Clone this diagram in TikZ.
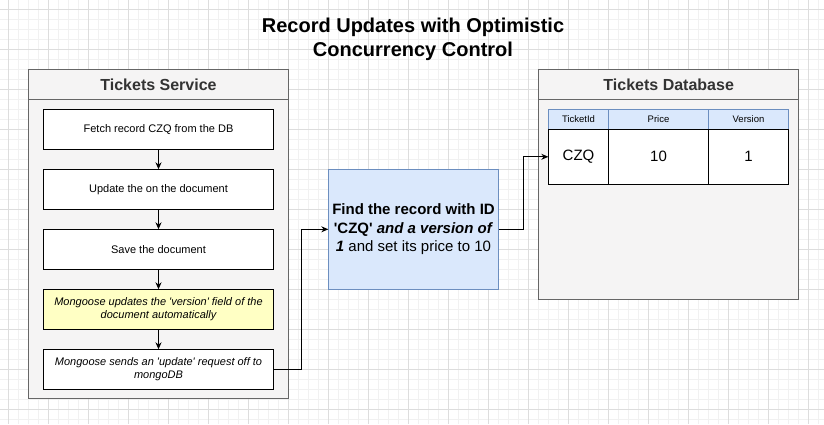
\documentclass[tikz,border=0pt]{standalone}
\usepackage{fontspec}
\setmainfont{Liberation Sans}
\usetikzlibrary{arrows.meta,positioning}
\definecolor{gridmajor}{HTML}{DDDDDD}
\definecolor{gridminor}{HTML}{F1F1F1}
\definecolor{panelfill}{HTML}{F5F4F4}
\definecolor{panelline}{HTML}{666666}
\definecolor{paneltext}{HTML}{333333}
\definecolor{bluefill}{HTML}{DAE8FC}
\definecolor{blueline}{HTML}{6C8EBF}
\definecolor{notefill}{HTML}{FFFFC4}
\newcommand{\sq}{\textquotesingle}
\tikzset{
  panel/.style={draw=panelline,fill=panelfill,line width=.8pt,inner sep=0pt,outer sep=0pt},
  panelhead/.style={panel,minimum height=30pt,text=paneltext,font=\fontsize{16}{18}\selectfont\bfseries},
  stepbox/.style={draw=black,fill=white,line width=.9pt,minimum width=230.4pt,minimum height=40pt,inner sep=0pt,outer sep=0pt,align=center,font=\fontsize{11}{13}\selectfont},
  headcell/.style={draw=blueline,fill=bluefill,line width=.8pt,minimum height=20pt,inner sep=0pt,outer sep=0pt,font=\fontsize{9.5}{11}\selectfont},
  datacell/.style={draw=black,fill=white,line width=.9pt,minimum height=55pt,inner sep=0pt,outer sep=0pt,font=\fontsize{15}{17}\selectfont},
  flow/.style={-{Stealth[length=7pt,width=6pt]},draw=black,line width=.9pt}
}
\begin{document}
\begin{tikzpicture}[x=1pt,y=-1pt]
\useasboundingbox (0,0) rectangle (824,424);
% background grid
\begin{scope}[line width=.5pt]
\foreach \i in {0,...,83} \draw[gridminor] ({\i*10-1.7},0) -- ++(0,424);
\foreach \i in {0,...,43} \draw[gridminor] (0,{\i*10-0.7}) -- ++(824,0);
\foreach \i in {0,...,20} \draw[gridmajor] ({\i*40+8.3},0) -- ++(0,424);
\foreach \i in {0,...,10} \draw[gridmajor] (0,{\i*40+9.3}) -- ++(824,0);
\end{scope}
\node[align=center,font=\fontsize{20}{24}\selectfont\bfseries] (title) at (413,39) {Record Updates with Optimistic\\Concurrency Control};
% tickets service
\node[panel,minimum width=259.4pt,minimum height=329.4pt] (svc) at (158.5,234) {};
\node[panelhead,minimum width=259.4pt] (svchead) at (158.5,84.3) {Tickets Service};
\node[stepbox] (fetch) at (158.5,129.3) {Fetch record CZQ from the DB};
\node[stepbox,below=20pt of fetch] (update) {Update the on the document};
\node[stepbox,below=20pt of update] (save) {Save the document};
\node[stepbox,below=20pt of save,fill=notefill,font=\fontsize{11}{13}\selectfont\itshape] (bump) {Mongoose updates the \sq version\sq{} field of the\\document automatically};
\node[stepbox,below=20pt of bump,font=\fontsize{11}{13}\selectfont\itshape] (send) {Mongoose sends an \sq update\sq{} request off to\\mongoDB};
\draw[flow] (fetch) -- (update);
\draw[flow] (update) -- (save);
\draw[flow] (save) -- (bump);
\draw[flow] (bump) -- (send);
% query
\node[draw=blueline,fill=bluefill,line width=.8pt,minimum width=170.4pt,minimum height=120pt,inner sep=0pt,outer sep=0pt,align=center,font=\fontsize{15}{18.2}\selectfont] (query) at (413.5,229.3) {\textbf{Find the record with ID}\\\textbf{\sq CZQ\sq{} \textit{and a version of}}\\\textbf{\textit{1}} and set its price to 10};
% tickets database
\node[panel,minimum width=260pt,minimum height=229.7pt] (db) at (668.7,184.2) {};
\node[panelhead,minimum width=260pt] (dbhead) at (668.7,84.3) {Tickets Database};
\node[headcell,minimum width=60.4pt] (hid) at (578.5,119.3) {TicketId};
\node[headcell,minimum width=99.6pt,right=0pt of hid] (hprice) {Price};
\node[headcell,minimum width=80.4pt,right=0pt of hprice] (hversion) {Version};
\node[datacell,minimum width=60.4pt,below=0pt of hid] (czq) {CZQ};
\node[datacell,minimum width=99.6pt,below=0pt of hprice] (price) {10};
\node[datacell,minimum width=80.4pt,below=0pt of hversion] (version) {1};
\draw[flow] (send.east) -- ++(27.6,0) |- (query.west);
\draw[flow] (query.east) -- ++(24.5,0) |- (czq.west);
\end{tikzpicture}
\end{document}
